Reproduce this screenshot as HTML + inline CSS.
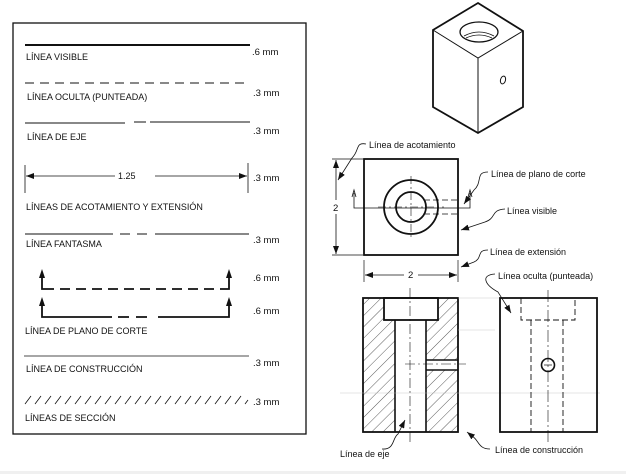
<!DOCTYPE html>
<html><head><meta charset="utf-8"><style>
body{margin:0;background:#fff}
svg{display:block}
text{font-family:"Liberation Sans",Arial,sans-serif;fill:#111}
.l{font-size:9px}
.r{font-size:9.5px}
</style></head><body>
<svg width="626" height="474" viewBox="0 0 626 474" xmlns="http://www.w3.org/2000/svg">
<defs>
<pattern id="h" width="8" height="8" patternUnits="userSpaceOnUse" patternTransform="rotate(45)">
<line x1="0" y1="0" x2="0" y2="8" stroke="#333" stroke-width="0.8"/>
</pattern>
<marker id="a" markerWidth="8" markerHeight="6" refX="8" refY="3" orient="auto" markerUnits="userSpaceOnUse"><path d="M0,0 L8,3 L0,6z" fill="#111"/></marker>
</defs>
<rect x="0" y="471" width="626" height="3" fill="#f0f0f0"/>
<!-- left panel -->
<rect x="13" y="23" width="293" height="411" fill="none" stroke="#111" stroke-width="1.3"/>
<line x1="25" y1="45" x2="250" y2="45" stroke="#111" stroke-width="2"/>
<text class="l" x="26" y="60">LÍNEA VISIBLE</text><text class="r" x="252" y="55">.6 mm</text>
<line x1="25" y1="83" x2="250" y2="83" stroke="#111" stroke-width="1" stroke-dasharray="9,6"/>
<text class="l" x="27" y="100">LÍNEA OCULTA (PUNTEADA)</text><text class="r" x="253" y="96">.3 mm</text>
<path d="M25 123H125M134 122H146M150 122H250" stroke="#111" stroke-width="1" fill="none"/>
<text class="l" x="27" y="140">LÍNEA DE EJE</text><text class="r" x="253" y="134">.3 mm</text>
<line x1="25" y1="165" x2="25" y2="193" stroke="#111" stroke-width="0.8"/>
<line x1="248" y1="163" x2="248" y2="193" stroke="#111" stroke-width="0.8"/>
<line x1="115" y1="176" x2="26" y2="176" stroke="#111" stroke-width="0.8" marker-end="url(#a)"/>
<line x1="155" y1="176" x2="247" y2="176" stroke="#111" stroke-width="0.8" marker-end="url(#a)"/>
<text class="l" x="118" y="179">1.25</text><text class="r" x="253" y="181">.3 mm</text>
<text class="l" x="26" y="210">LÍNEAS DE ACOTAMIENTO Y EXTENSIÓN</text>
<path d="M25 234H113M120 234H130M137 234H147M155 234H249" stroke="#111" stroke-width="1" fill="none"/>
<text class="l" x="26" y="247">LÍNEA FANTASMA</text><text class="r" x="253" y="243">.3 mm</text>
<path d="M42 275V289H229V275" stroke="#111" stroke-width="1.8" fill="none"/>
<rect x="44" y="286" width="183" height="6" fill="#fff"/>
<line x1="44" y1="289" x2="227" y2="289" stroke="#111" stroke-width="1.8" stroke-dasharray="10,6"/>
<path d="M39 278L42 269L45 278z M226 278L229 269L232 278z" fill="#111"/>
<path d="M42 305V317H229V305" stroke="#111" stroke-width="1.8" fill="none"/>
<rect x="112" y="314" width="46" height="6" fill="#fff"/>
<path d="M118 317H129M136 317H147" stroke="#111" stroke-width="1.8"/>
<path d="M39 306L42 297L45 306z M226 306L229 297L232 306z" fill="#111"/>
<text class="r" x="253" y="281">.6 mm</text><text class="r" x="253" y="314">.6 mm</text>
<text class="l" x="25" y="334">LÍNEA DE PLANO DE CORTE</text>
<line x1="24" y1="356" x2="249" y2="356" stroke="#111" stroke-width="0.7"/>
<text class="l" x="26" y="372">LÍNEA DE CONSTRUCCIÓN</text><text class="r" x="253" y="366">.3 mm</text>
<g stroke="#111" stroke-width="0.8">
<path d="M25 404l6-8M35 404l6-8M45 404l6-8M55 404l6-8M65 404l6-8M75 404l6-8M85 404l6-8M95 404l6-8M105 404l6-8M115 404l6-8M125 404l6-8M135 404l6-8M145 404l6-8M155 404l6-8M165 404l6-8M175 404l6-8M185 404l6-8M195 404l6-8M205 404l6-8M215 404l6-8M225 404l6-8M235 404l6-8M245 404l3-4"/>
</g>
<text class="l" x="25" y="421">LÍNEAS DE SECCIÓN</text><text class="r" x="253" y="405">.3 mm</text>
<!-- cube -->
<g stroke="#111" fill="none">
<path d="M478 3L523 31V107L478 133L433 107V30Z" stroke-width="1.8"/>
<path d="M433 30L478 58L523 31M478 58V133" stroke-width="1"/>
<ellipse cx="479" cy="32" rx="19" ry="10" stroke-width="1.3"/>
<path d="M464 36Q479 28 494 36M466 38Q479 32 492 38" stroke-width="0.8"/>
<ellipse cx="503" cy="80" rx="2.5" ry="4" transform="rotate(15 503 80)" stroke-width="1"/>
</g>
<!-- front view -->
<g stroke="#111" fill="none">
<rect x="364" y="159" width="94" height="96" stroke-width="1.8"/>
<circle cx="411" cy="207" r="27" stroke-width="1.8"/>
<circle cx="411" cy="207" r="15" stroke-width="1.8"/>
<path d="M411 176V240M378 207H444" stroke-width="0.6" stroke-dasharray="8,3,2,3"/>
<path d="M424 200H458M424 214H458" stroke-width="0.8" stroke-dasharray="6,3"/>
<path d="M354 193V208H470V193" stroke-width="0.8"/>
<path d="M352 197L354 190L356 197M468 197L470 190L472 197" stroke-width="0.8"/>
<path d="M332 159H363M332 255H363M364 260V282M458 260V282" stroke-width="0.7"/>
<line x1="336" y1="200" x2="336" y2="160" stroke-width="0.8" marker-end="url(#a)"/>
<line x1="336" y1="214" x2="336" y2="254" stroke-width="0.8" marker-end="url(#a)"/>
<line x1="404" y1="275" x2="365" y2="275" stroke-width="0.8" marker-end="url(#a)"/>
<line x1="418" y1="275" x2="457" y2="275" stroke-width="0.8" marker-end="url(#a)"/>
<path d="M366 144C355 142 360 150 352 158L338 180" stroke-width="0.8" marker-end="url(#a)"/>
<path d="M488 172C475 172 483 182 474 190L464 204" stroke-width="0.8" marker-end="url(#a)"/>
<path d="M505 209C490 210 497 218 485 222L461 230" stroke-width="0.8" marker-end="url(#a)"/>
<path d="M488 250C476 250 483 258 474 262L461 267" stroke-width="0.8" marker-end="url(#a)"/>
<path d="M495 274C480 275 485 285 498 292L511 313" stroke-width="0.8" marker-end="url(#a)"/>
</g>
<text class="l" x="369" y="148">Línea de acotamiento</text>
<text class="l" x="491" y="177">Línea de plano de corte</text>
<text class="l" x="507" y="214">Línea visible</text>
<text class="l" x="490" y="255">Línea de extensión</text>
<text class="l" x="498" y="279">Línea oculta (punteada)</text>
<text class="r" x="333" y="211">2</text><text class="r" x="408" y="278">2</text>
<!-- section view -->
<g stroke="none" fill="url(#h)">
<path d="M363 298H384V320H395V432H363Z"/>
<path d="M438 298H458V360H426V320H438Z"/>
<path d="M426 370H458V432H426Z"/>
</g>
<g stroke="#111" fill="none">
<rect x="363" y="298" width="95" height="134" stroke-width="1.8"/>
<rect x="384" y="298" width="54" height="22" stroke-width="1.8"/>
<path d="M395 320V432M426 320V432M426 360H458M426 370H458" stroke-width="1.6"/>
<path d="M410 288V442M405 364H466" stroke-width="0.6" stroke-dasharray="10,3,2,3"/>
<path d="M458 298H500M458 330H495M340 393H600" stroke-width="0.4" stroke="#bbb"/>
<rect x="500" y="298" width="97" height="134" stroke-width="1.8"/>
<path d="M521 298V320H575V298M531 320V432M563 320V432" stroke-width="0.9" stroke-dasharray="6,3"/>
<path d="M548 290V445" stroke-width="0.6" stroke-dasharray="12,3,2,3"/>
<circle cx="548" cy="365" r="6.5" stroke-width="1.6"/>
<path d="M544 365H552" stroke-width="0.7"/>
<path d="M382 449C395 450 392 438 398 434L405 420" stroke-width="0.8" marker-end="url(#a)"/>
<path d="M490 449C478 449 479 440 472 436L467 432" stroke-width="0.8" marker-end="url(#a)"/>
</g>
<text class="l" x="340" y="457">Línea de eje</text>
<text class="l" x="495" y="453">Línea de construcción</text>
</svg>
</body></html>
